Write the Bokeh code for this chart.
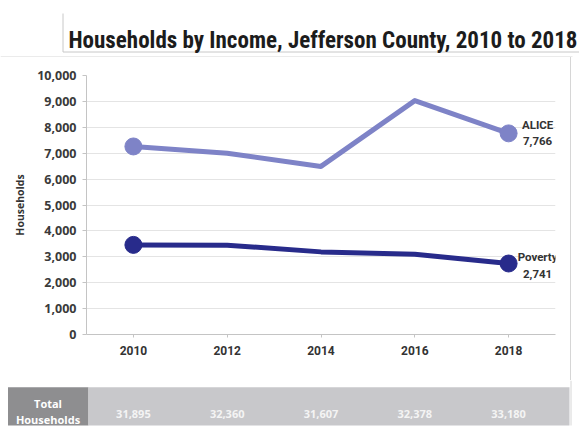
from bokeh.plotting import figure
from bokeh.models import Range1d, FixedTicker, NumeralTickFormatter
from bokeh.core.properties import value
from bokeh.embed import file_html
from bokeh.resources import INLINE

# ---- data ----
years = [2010, 2012, 2014, 2016, 2018]
alice = [7260, 7000, 6490, 9030, 7766]
poverty = [3460, 3450, 3190, 3100, 2741]
total_households = [31895, 32360, 31607, 32378, 33180]
y_ticks = [0, 1000, 2000, 3000, 4000, 5000, 6000, 7000, 8000, 9000, 10000]
series_names = ["ALICE", "Poverty"]
table_label = ["Total", "Households"]
title_text = "Households by Income, Jefferson County, 2010 to 2018"

# ---- styles / layout ----
W = 579
ALICE_C = "#7e83c7"
POV_C = "#282b8b"
TXT = "#333333"
BORDER = "#d6d6d6"
LEFT = 86          # frame left (px)
FRAME_W = 469      # frame width (px)
X0, X1 = 2009, 2019
PPY = FRAME_W / (X1 - X0)

# ---- title ----
TH = 57
t = figure(width=W, height=TH, x_range=Range1d(0, W), y_range=Range1d(TH, 0),
           toolbar_location=None, output_backend="svg", min_border=0,
           x_axis_location=None, y_axis_location=None)
t.grid.visible = False
t.outline_line_color = None
t.segment(x0=[62.5, 62.5], y0=[13, 51.5], x1=[62.5, W], y1=[51.5, 51.5],
          line_color="#c8c8c8", line_width=1)
t.segment(x0=[0], y0=[56.5], x1=[572], y1=[56.5], line_color=BORDER, line_width=1)
t.text(x=[68], y=[40], text=[title_text],
       text_font=value("Roboto Condensed, DejaVu Sans Condensed, sans-serif"),
       text_font_style="bold", text_font_size="23px", text_color="#1c1c1c",
       text_baseline="alphabetic", text_align="left")

# ---- main chart ----
MW = 571
p = figure(width=MW, height=323, x_range=Range1d(X0, X1), y_range=Range1d(0, 10000),
           toolbar_location=None, output_backend="svg",
           min_border_left=LEFT, min_border_right=MW - LEFT - FRAME_W,
           min_border_top=18, min_border_bottom=46,
           styles={"box-shadow": "inset -1px 0 0 0 #d6d6d6"})
p.border_fill_color = None
p.background_fill_color = "white"
p.outline_line_color = None
p.xgrid.visible = False
p.ygrid.ticker = FixedTicker(ticks=y_ticks)
p.ygrid.grid_line_color = "#e4e4e4"

p.yaxis.ticker = FixedTicker(ticks=y_ticks)
p.yaxis.formatter = NumeralTickFormatter(format="0,0")
p.yaxis.major_label_text_font = "Open Sans"
p.yaxis.major_label_text_font_style = "bold"
p.yaxis.major_label_text_font_size = "12.5px"
p.yaxis.major_label_text_color = "#3a3a3a"
p.yaxis.axis_line_color = "#c4c4c4"
p.yaxis.major_tick_line_color = "#c4c4c4"
p.yaxis.major_tick_out = 4
p.yaxis.major_tick_in = 0
p.yaxis.minor_tick_line_color = None
p.yaxis.major_label_standoff = 6
p.yaxis.axis_label = "Households"
p.yaxis.axis_label_text_font = "Open Sans"
p.yaxis.axis_label_text_font_style = "bold"
p.yaxis.axis_label_text_font_size = "10.5px"
p.yaxis.axis_label_text_color = TXT
p.yaxis.axis_label_standoff = 7

p.xaxis.ticker = FixedTicker(ticks=years)
p.xaxis.major_label_text_font = "Roboto"
p.xaxis.major_label_text_font_style = "bold"
p.xaxis.major_label_text_font_size = "12px"
p.xaxis.major_label_text_color = TXT
p.xaxis.axis_line_color = "#c4c4c4"
p.xaxis.major_tick_line_color = "#c4c4c4"
p.xaxis.major_tick_out = 3
p.xaxis.major_tick_in = 0
p.xaxis.minor_tick_line_color = None
p.xaxis.major_label_standoff = 8

for vals, col in ((alice, ALICE_C), (poverty, POV_C)):
    p.line(years, vals, line_color=col, line_width=5, line_join="round", line_cap="round")
    p.scatter([years[0], years[-1]], [vals[0], vals[-1]], size=17, fill_color=col,
              line_color=col, marker="circle")

for name, vals, offs in ((series_names[0], alice, [-8, 8]), (series_names[1], poverty, [-7, 10])):
    p.text(x=[years[-1]] * 2, y=[vals[-1]] * 2, text=[name, f"{vals[-1]:,}"],
           x_offset=29, y_offset=offs, text_align="center", text_baseline="middle",
           text_font=value("Roboto"), text_font_style="bold", text_font_size="11.5px",
           text_color=TXT)

# ---- table ----
TBH = 47
xs = X0 - LEFT / PPY
xe = X0 + (W - LEFT) / PPY
def px(v):
    return X0 + (v - LEFT) / PPY

tb = figure(width=W, height=TBH, x_range=Range1d(xs, xe), y_range=Range1d(TBH, 0),
            toolbar_location=None, output_backend="svg", min_border=0,
            x_axis_location=None, y_axis_location=None)
tb.grid.visible = False
tb.outline_line_color = None
tb.quad(left=[px(7.5)], right=[px(88)], top=[6.7], bottom=[45], fill_color="#8e8e90", line_color=None)
tb.quad(left=[px(88)], right=[px(569)], top=[6.7], bottom=[45], fill_color="#c8c8cb", line_color=None)
tb.segment(x0=[px(570.5)], y0=[0], x1=[px(570.5)], y1=[45], line_color=BORDER, line_width=1)
tb.text(x=[px(47.5)] * 2, y=[23.3, 39.0], text=table_label,
        text_align="center", text_baseline="middle", text_font=value("Open Sans"),
        text_font_style="bold", text_font_size="11px", text_color="#ffffff")
tb.text(x=years, y=[33.3] * len(years), text=[f"{v:,}" for v in total_households],
        text_align="center", text_baseline="middle", text_font=value("Open Sans"),
        text_font_style="bold", text_font_size="11px", text_color="#f4f4f4")

open("out.html", "w").write(file_html([t, p, tb], INLINE))
